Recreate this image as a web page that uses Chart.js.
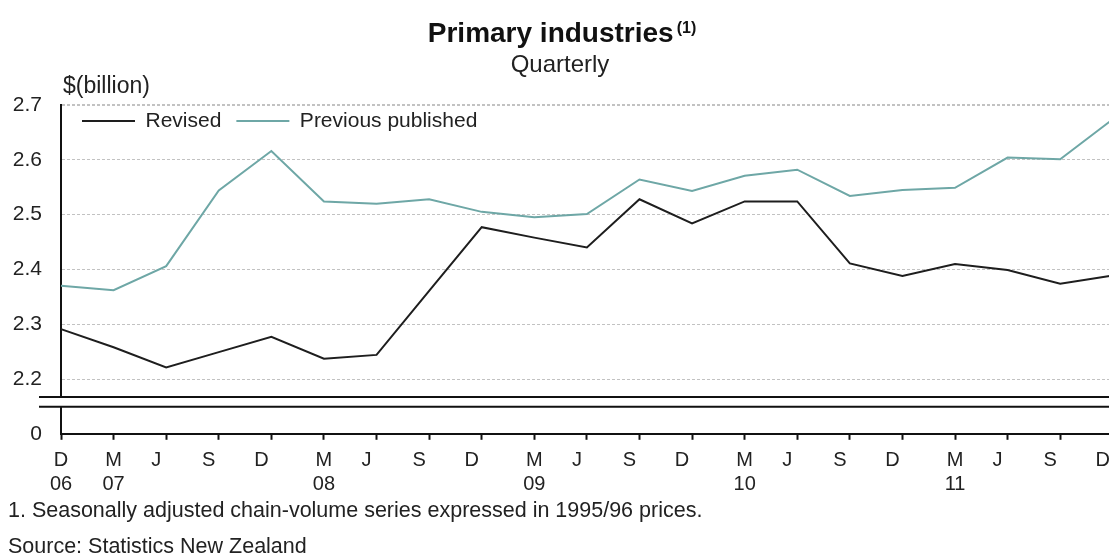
<!DOCTYPE html>
<html>
<head>
<meta charset="utf-8">
<title>Primary industries</title>
<script src="https://cdn.jsdelivr.net/npm/chart.js@4.4.1/dist/chart.umd.min.js"></script>
<style>
  html, body { margin: 0; padding: 0; background: #fff; overflow: hidden; }
  #frame { position: relative; width: 1109px; height: 556px; overflow: hidden; }
  #wrap { position: absolute; left: 0; top: 0; width: 1139px; height: 556px; }
</style>
</head>
<body>
<div id="frame"><div id="wrap"><canvas id="chart"></canvas></div></div>
<script>
// Quarter letters and year markers for the category axis (Dec 2006 – Dec 2011)
const quarterLabels = ['D','M','J','S','D','M','J','S','D','M','J','S','D','M','J','S','D','M','J','S','D'];
const yearLabels    = ['06','07','','','','08','','','','09','','','','10','','','','11','','',''];

// $(billion), seasonally adjusted chain-volume
const revised = [2.291, 2.258, 2.221, 2.249, 2.277, 2.237, 2.244, 2.361, 2.477, 2.458, 2.440,
                 2.528, 2.484, 2.524, 2.524, 2.411, 2.388, 2.410, 2.399, 2.374, 2.389];
const previousPublished = [2.370, 2.362, 2.406, 2.544, 2.616, 2.524, 2.520, 2.528, 2.505, 2.495, 2.501,
                           2.564, 2.543, 2.571, 2.582, 2.534, 2.545, 2.549, 2.604, 2.601, 2.674];

// Broken value axis: the lowest tick stands for zero
const yTickValues = [2.1, 2.2, 2.3, 2.4, 2.5, 2.6, 2.7];
const yTickText   = ['0', '2.2', '2.3', '2.4', '2.5', '2.6', '2.7'];

const titleText = 'Primary industries';
const titleNote = '(1)';
const subtitleText = 'Quarterly';
const unitText = '$(billion)';
const footnoteText = '1. Seasonally adjusted chain-volume series expressed in 1995/96 prices.';
const sourceText = 'Source: Statistics New Zealand';

const FONT = '"Liberation Sans", Arial, Helvetica, sans-serif';
const Y_MIN = 2.1, Y_MAX = 2.7;
const BREAK_UPPER = 2.167, BREAK_LOWER = 2.1495;

// Legend sits inside the plot, near its top-left corner
const legendPlacement = {
  id: 'legendPlacement',
  afterLayout(chart) {
    const lg = chart.legend, ca = chart.chartArea;
    if (!lg || !ca) return;
    lg.left = ca.left + 6;
    lg.right = lg.left + lg.width;
    lg.top = ca.top - 9.5;
    lg.bottom = lg.top + lg.height;
  }
};

// Axis break: gap in the value axis with two parallel rules
const axisBreak = {
  id: 'axisBreak',
  afterDraw(chart) {
    const { ctx, chartArea, scales: { y } } = chart;
    const yTop = y.getPixelForValue(BREAK_UPPER);
    const yBot = y.getPixelForValue(BREAK_LOWER);
    ctx.save();
    ctx.fillStyle = '#fff';
    ctx.fillRect(chartArea.left - 3, yTop, 6, yBot - yTop);
    ctx.strokeStyle = '#111';
    ctx.lineWidth = 2;
    ctx.beginPath();
    ctx.moveTo(39, yTop); ctx.lineTo(chart.width, yTop);
    ctx.moveTo(39, yBot); ctx.lineTo(chart.width, yBot);
    ctx.stroke();
    ctx.restore();
  }
};

// Heading, unit label and notes
const chartText = {
  id: 'chartText',
  afterDraw(chart) {
    const ctx = chart.ctx;
    ctx.save();
    ctx.textAlign = 'left';
    ctx.textBaseline = 'alphabetic';

    ctx.fillStyle = '#111';
    ctx.font = 'bold 28px ' + FONT;
    const tw = ctx.measureText(titleText).width;
    ctx.font = 'bold 16px ' + FONT;
    const nw = ctx.measureText(titleNote).width;
    const tx = 562 - (tw + 3 + nw) / 2;
    ctx.font = 'bold 28px ' + FONT;
    ctx.fillText(titleText, tx, 41.5);
    ctx.font = 'bold 16px ' + FONT;
    ctx.fillText(titleNote, tx + tw + 3, 33);

    ctx.fillStyle = '#222';
    ctx.font = '24px ' + FONT;
    ctx.textAlign = 'center';
    ctx.fillText(subtitleText, 560, 71.5);

    ctx.textAlign = 'left';
    ctx.font = '23px ' + FONT;
    ctx.fillText(unitText, 63, 92.5);

    ctx.font = '21.5px ' + FONT;
    ctx.fillText(footnoteText, 8, 516.5);
    ctx.fillText(sourceText, 8, 553);
    ctx.restore();
  }
};

new Chart(document.getElementById('chart'), {
  type: 'line',
  data: {
    labels: quarterLabels.map((q, i) => [q, yearLabels[i]]),
    datasets: [
      {
        label: 'Revised',
        data: revised,
        borderColor: '#1e1e1e',
        backgroundColor: '#1e1e1e',
        borderWidth: 2,
        pointRadius: 0,
        tension: 0
      },
      {
        label: 'Previous published',
        data: previousPublished,
        borderColor: '#6ea7a6',
        backgroundColor: '#6ea7a6',
        borderWidth: 2,
        pointRadius: 0,
        tension: 0
      }
    ]
  },
  options: {
    responsive: true,
    maintainAspectRatio: false,
    devicePixelRatio: 1,
    animation: false,
    layout: { padding: { top: 59, left: 0, right: 0, bottom: 51 } },
    plugins: {
      title: { display: false },
      tooltip: { enabled: false },
      legend: {
        display: true,
        position: 'top',
        align: 'start',
        labels: {
          usePointStyle: true,
          pointStyle: 'line',
          pointStyleWidth: 53,
          padding: 15,
          color: '#222',
          font: { family: FONT, size: 21 }
        }
      }
    },
    scales: {
      x: {
        type: 'category',
        offset: false,
        grid: {
          drawOnChartArea: false,
          drawTicks: true,
          tickLength: 6,
          tickWidth: 2,
          tickColor: '#111'
        },
        border: { display: true, color: '#111', width: 2 },
        ticks: {
          autoSkip: false,
          maxRotation: 0,
          minRotation: 0,
          padding: 9,
          color: '#222',
          font: { family: FONT, size: 20, lineHeight: 1.18 },
          callback: (value, i) => [quarterLabels[i] + (yearLabels[i] ? '' : '\u2002\u2002'), yearLabels[i]]
        }
      },
      y: {
        type: 'linear',
        min: Y_MIN,
        max: Y_MAX,
        afterBuildTicks: (scale) => { scale.ticks = yTickValues.map(v => ({ value: v })); },
        afterFit: (scale) => { scale.width = 61; },
        grid: {
          drawTicks: false,
          color: (c) => (c.tick && c.tick.value <= Y_MIN + 1e-9) ? 'rgba(0,0,0,0)' : '#c2c2c2',
          lineWidth: (c) => (c.tick && Math.abs(c.tick.value - Y_MAX) < 1e-9) ? 2 : 1
        },
        border: { display: true, color: '#111', width: 2, dash: [3, 2] },
        ticks: {
          padding: 19,
          color: '#222',
          font: { family: FONT, size: 21 },
          callback: (value, i) => yTickText[i]
        }
      }
    }
  },
  plugins: [legendPlacement, axisBreak, chartText]
});
</script>
</body>
</html>
